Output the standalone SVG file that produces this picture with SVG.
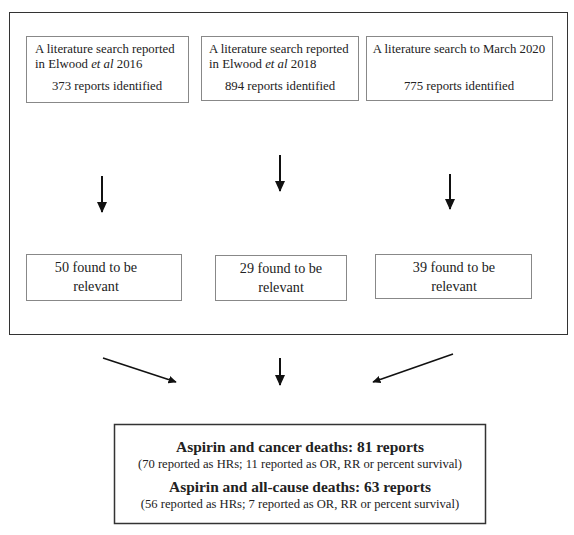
<svg xmlns="http://www.w3.org/2000/svg" width="574" height="535" viewBox="0 0 574 535">
<style>
text{font-family:"Liberation Serif","Times New Roman",serif;fill:#222}
.box{fill:#fff;stroke:#888;stroke-width:1}
.s{font-size:12.8px}
.m{font-size:14.2px}
.b{font-size:15.4px;font-weight:bold}
.sm{font-size:12.6px}
.c{stroke:#111;stroke-width:2;fill:none}
</style>
<defs>
<marker id="ah" markerWidth="6" markerHeight="6" refX="5" refY="3" orient="auto" markerUnits="strokeWidth">
<path d="M0,0.5 L5.5,3 L0,5.5 Z" fill="#111"/>
</marker>
</defs>
<rect width="574" height="535" fill="#fff"/>
<g id="frame"><rect x="9.5" y="12.5" width="558" height="322" fill="none" stroke="#333" stroke-width="1"/></g>
<g id="search2016"><rect class="box" x="26.5" y="36.5" width="162" height="66"/>
<text class="s" x="35" y="53">A literature search reported</text>
<text class="s" x="35" y="68">in Elwood <tspan font-style="italic">et al</tspan> 2016</text>
<text class="s" x="107" y="90" text-anchor="middle">373 reports identified</text></g>
<g id="search2018"><rect class="box" x="201.5" y="36.5" width="157" height="64"/>
<text class="s" x="209" y="53">A literature search reported</text>
<text class="s" x="209" y="68">in Elwood <tspan font-style="italic">et al</tspan> 2018</text>
<text class="s" x="280" y="90" text-anchor="middle">894 reports identified</text></g>
<g id="search2020"><rect class="box" x="366.5" y="36.5" width="186" height="64"/>
<text class="s" x="459" y="53" text-anchor="middle">A literature search to March 2020</text>
<text class="s" x="459" y="90" text-anchor="middle">775 reports identified</text></g>
<g id="rel50"><rect class="box" x="26.5" y="254.5" width="155" height="46"/>
<text class="m" x="96" y="272" text-anchor="middle">50 found to be</text>
<text class="m" x="96" y="291" text-anchor="middle">relevant</text></g>
<g id="rel29"><rect class="box" x="215.5" y="255.5" width="131" height="45"/>
<text class="m" x="281" y="273" text-anchor="middle">29 found to be</text>
<text class="m" x="281" y="292" text-anchor="middle">relevant</text></g>
<g id="rel39"><rect class="box" x="375.5" y="254.5" width="156" height="44"/>
<text class="m" x="454" y="272" text-anchor="middle">39 found to be</text>
<text class="m" x="454" y="291" text-anchor="middle">relevant</text></g>
<g id="result"><rect x="114.5" y="424.5" width="371" height="99" fill="#fff" stroke="#333" stroke-width="1.5"/>
<text class="b" x="300" y="452" text-anchor="middle">Aspirin and cancer deaths: 81 reports</text>
<text class="sm" x="300" y="468" text-anchor="middle">(70 reported as HRs; 11 reported as OR, RR or percent survival)</text>
<text class="b" x="300" y="492" text-anchor="middle">Aspirin and all-cause deaths: 63 reports</text>
<text class="sm" x="300" y="508" text-anchor="middle">(56 reported as HRs; 7 reported as OR, RR or percent survival)</text></g>
<g id="connectors">
<line class="c" x1="102" y1="176" x2="102" y2="212" marker-end="url(#ah)"/>
<line class="c" x1="280" y1="155" x2="280" y2="191" marker-end="url(#ah)"/>
<line class="c" x1="450" y1="174" x2="450" y2="209" marker-end="url(#ah)"/>
<line class="c" style="stroke-width:1.5" x1="103" y1="358" x2="176" y2="382" marker-end="url(#ah)"/>
<line class="c" x1="280" y1="358" x2="280" y2="385" marker-end="url(#ah)"/>
<line class="c" style="stroke-width:1.5" x1="453" y1="354" x2="373" y2="382" marker-end="url(#ah)"/>
</g>
</svg>
